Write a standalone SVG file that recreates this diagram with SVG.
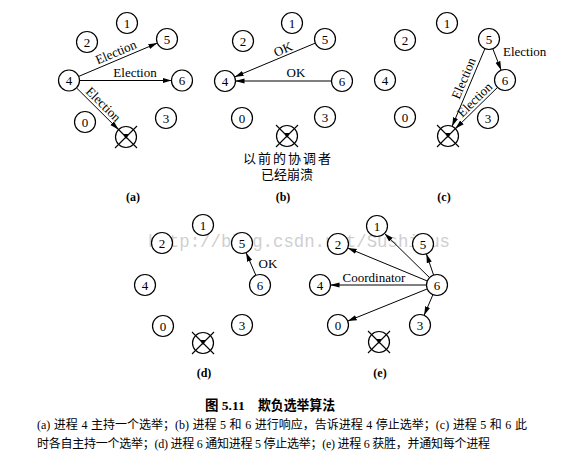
<svg xmlns="http://www.w3.org/2000/svg" width="584" height="461" viewBox="0 0 584 461">
<style>
.n circle{fill:#fff;stroke:#000;stroke-width:1.2}
.n text,.lbl{font-family:"Liberation Serif",serif;font-size:13px;text-anchor:middle;fill:#000}
.e line{stroke:#000;stroke-width:1;marker-end:url(#ah)}
.cap{font-family:"Liberation Serif","Noto Sans CJK SC",sans-serif;fill:#000}
.zh{font-family:"Noto Sans CJK SC",sans-serif;font-size:13px;text-anchor:middle;fill:#000}
.pl{font-family:"Liberation Serif",serif;font-size:12px;font-weight:bold;text-anchor:middle}
</style>
<defs>
<marker id="ah" markerUnits="userSpaceOnUse" markerWidth="9" markerHeight="6" refX="9" refY="3" orient="auto">
<path d="M0,0.4 L9,3 L0,5.6 z" fill="#000"/>
</marker>
<g id="crash">
<circle r="10.5" fill="#fff" stroke="#000" stroke-width="1.2"/>
<line x1="-11" y1="-11" x2="11" y2="11" stroke="#000" stroke-width="1.1"/>
<line x1="11" y1="-11" x2="-11" y2="11" stroke="#000" stroke-width="1.1"/>
<path d="M-3,-3 L3,-3 L0,2 z" fill="#000"/>
</g>
</defs>
<rect width="584" height="461" fill="#fff"/>
<text x="148" y="247" font-family="Liberation Mono,monospace" font-size="19" fill="#cfcfcf" textLength="302" lengthAdjust="spacingAndGlyphs">http://blog.csdn.net/SushiBus</text>

<g id="connectors">
<g class="e">
<line x1="78.7" y1="76.4" x2="157.3" y2="43.1"/>
<line x1="79.5" y1="80.5" x2="171.5" y2="80.5"/>
<line x1="76.5" y1="87.9" x2="118.5" y2="129.6"/>
<line x1="315.3" y1="43.1" x2="234.7" y2="76.9"/>
<line x1="331.5" y1="81" x2="235.5" y2="81"/>
<line x1="492.8" y1="48.8" x2="501.2" y2="70.2"/>
<line x1="484.9" y1="48.7" x2="452.1" y2="126.3"/>
<line x1="497.5" y1="87.4" x2="455.5" y2="128.6"/>
<line x1="255.9" y1="275.4" x2="246.1" y2="252.7"/>
<line x1="429.5" y1="277.6" x2="384.5" y2="233.4"/>
<line x1="427.3" y1="281" x2="347.7" y2="248"/>
<line x1="433.6" y1="275.1" x2="426.4" y2="253.9"/>
<line x1="426.5" y1="285" x2="330.5" y2="285"/>
<line x1="427.3" y1="288.9" x2="347.7" y2="321.1"/>
<line x1="432.9" y1="294.7" x2="424.1" y2="315.3"/>
</g>
<text class="lbl" transform="translate(119,59.4) rotate(-22.9)" y="-3.5">Election</text>
<text class="lbl" x="135" y="77">Election</text>
<text class="lbl" transform="translate(98.2,109.5) rotate(44.7)" y="-3">Election</text>
<text class="lbl" transform="translate(285.6,55.6) rotate(-22.8)" y="-2.5">OK</text>
<text class="lbl" x="296" y="77">OK</text>
<text class="lbl" x="503" y="56" style="text-anchor:start">Election</text>
<text class="lbl" transform="translate(471.3,81.6) rotate(-67.1)" y="-4">Election</text>
<text class="lbl" transform="translate(479.8,104.9) rotate(-44.5)" y="-3">Election</text>
<text class="lbl" x="268" y="268">OK</text>
<text class="lbl" x="374" y="282">Coordinator</text>
</g>

<g id="panel-a">
<g id="a1" class="n"><circle cx="127" cy="23" r="10.5"/><text x="127" y="27.5">1</text></g>
<g id="a2" class="n"><circle cx="87" cy="42" r="10.5"/><text x="87" y="46.5">2</text></g>
<g id="a5" class="n"><circle cx="167" cy="39" r="10.5"/><text x="167" y="43.5">5</text></g>
<g id="a4" class="n"><circle cx="69" cy="80.5" r="10.5"/><text x="69" y="85">4</text></g>
<g id="a6" class="n"><circle cx="182" cy="80.5" r="10.5"/><text x="182" y="85">6</text></g>
<g id="a0" class="n"><circle cx="85" cy="122" r="10.5"/><text x="85" y="126.5">0</text></g>
<g id="a3" class="n"><circle cx="166" cy="118" r="10.5"/><text x="166" y="122.5">3</text></g>
<g id="a7"><use href="#crash" x="126" y="137"/></g>
<text class="pl" x="133" y="201">(a)</text>
</g>

<g id="panel-b">
<g id="b1" class="n"><circle cx="292" cy="23" r="10.5"/><text x="292" y="27.5">1</text></g>
<g id="b2" class="n"><circle cx="243" cy="41" r="10.5"/><text x="243" y="45.5">2</text></g>
<g id="b5" class="n"><circle cx="325" cy="39" r="10.5"/><text x="325" y="43.5">5</text></g>
<g id="b4" class="n"><circle cx="225" cy="81" r="10.5"/><text x="225" y="85.5">4</text></g>
<g id="b6" class="n"><circle cx="342" cy="81" r="10.5"/><text x="342" y="85.5">6</text></g>
<g id="b0" class="n"><circle cx="242" cy="118" r="10.5"/><text x="242" y="122.5">0</text></g>
<g id="b3" class="n"><circle cx="325" cy="117" r="10.5"/><text x="325" y="121.5">3</text></g>
<g id="b7"><use href="#crash" x="287" y="136"/></g>
<text class="zh" x="287" y="163" textLength="88">以前的协调者</text>
<text class="zh" x="287" y="179">已经崩溃</text>
<text class="pl" x="283" y="201">(b)</text>
</g>

<g id="panel-c">
<g id="c1" class="n"><circle cx="447" cy="23" r="10.5"/><text x="447" y="27.5">1</text></g>
<g id="c2" class="n"><circle cx="405" cy="40" r="10.5"/><text x="405" y="44.5">2</text></g>
<g id="c5" class="n"><circle cx="489" cy="39" r="10.5"/><text x="489" y="43.5">5</text></g>
<g id="c4" class="n"><circle cx="385" cy="80" r="10.5"/><text x="385" y="84.5">4</text></g>
<g id="c6" class="n"><circle cx="505" cy="80" r="10.5"/><text x="505" y="84.5">6</text></g>
<g id="c0" class="n"><circle cx="405" cy="117" r="10.5"/><text x="405" y="121.5">0</text></g>
<g id="c3" class="n"><circle cx="488" cy="118" r="10.5"/><text x="488" y="122.5">3</text></g>
<g id="c7"><use href="#crash" x="448" y="136"/></g>
<text class="pl" x="444" y="201">(c)</text>
</g>

<g id="panel-d">
<g id="d1" class="n"><circle cx="203" cy="225" r="10.5"/><text x="203" y="229.5">1</text></g>
<g id="d2" class="n"><circle cx="162" cy="243" r="10.5"/><text x="162" y="247.5">2</text></g>
<g id="d5" class="n"><circle cx="242" cy="243" r="10.5"/><text x="242" y="247.5">5</text></g>
<g id="d4" class="n"><circle cx="145" cy="285" r="10.5"/><text x="145" y="289.5">4</text></g>
<g id="d6" class="n"><circle cx="260" cy="285" r="10.5"/><text x="260" y="289.5">6</text></g>
<g id="d0" class="n"><circle cx="163" cy="326" r="10.5"/><text x="163" y="330.5">0</text></g>
<g id="d3" class="n"><circle cx="242" cy="325" r="10.5"/><text x="242" y="329.5">3</text></g>
<g id="d7"><use href="#crash" x="203" y="343"/></g>
<text class="pl" x="204" y="377">(d)</text>
</g>

<g id="panel-e">
<g id="e1" class="n"><circle cx="377" cy="226" r="10.5"/><text x="377" y="230.5">1</text></g>
<g id="e2" class="n"><circle cx="338" cy="244" r="10.5"/><text x="338" y="248.5">2</text></g>
<g id="e5" class="n"><circle cx="423" cy="244" r="10.5"/><text x="423" y="248.5">5</text></g>
<g id="e4" class="n"><circle cx="320" cy="285" r="10.5"/><text x="320" y="289.5">4</text></g>
<g id="e6" class="n"><circle cx="437" cy="285" r="10.5"/><text x="437" y="289.5">6</text></g>
<g id="e0" class="n"><circle cx="338" cy="325" r="10.5"/><text x="338" y="329.5">0</text></g>
<g id="e3" class="n"><circle cx="420" cy="325" r="10.5"/><text x="420" y="329.5">3</text></g>
<g id="e7"><use href="#crash" x="379" y="342"/></g>
<text class="pl" x="380" y="377">(e)</text>
</g>

<g id="caption">
<text class="cap" y="410" font-size="13.5" font-weight="bold"><tspan x="205">图 5.11</tspan><tspan x="258" textLength="77" lengthAdjust="spacingAndGlyphs">欺负选举算法</tspan></text>
<text class="cap" x="37" y="429" font-size="12" word-spacing="0.55">(a) 进程 4 主持一个选举；(b) 进程 5 和 6 进行响应，告诉进程 4 停止选举；(c) 进程 5 和 6 此</text>
<text class="cap" x="37" y="448" font-size="12" letter-spacing="-0.25">时各自主持一个选举；(d) 进程 6 通知进程 5 停止选举；(e) 进程 6 获胜，并通知每个进程</text>
</g>
</svg>
